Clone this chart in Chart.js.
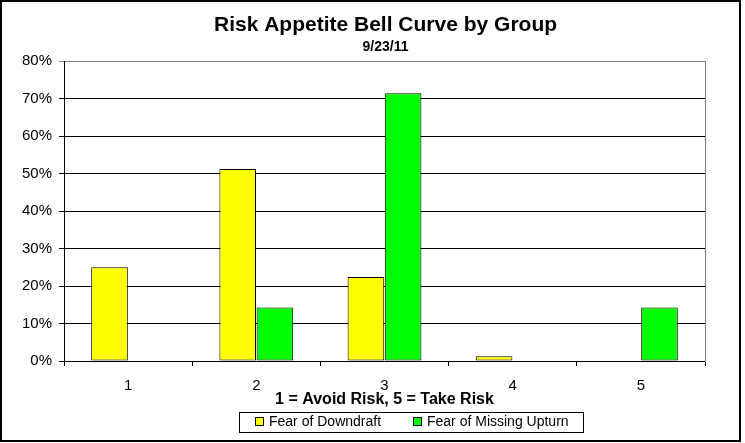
<!DOCTYPE html>
<html>
<head>
<meta charset="utf-8">
<script src="https://cdn.jsdelivr.net/npm/chart.js@4"></script>
<style>
  html, body { margin: 0; padding: 0; background: #fff; }
  #wrap { width: 745px; height: 443px; position: relative; }
</style>
</head>
<body>
<div id="wrap"><canvas id="c" width="745" height="443"></canvas></div>
<script>
const categories = ['1', '2', '3', '4', '5'];
const fearOfDowndraft = [0.25, 0.512, 0.224, 0.013, null];
const fearOfMissingUpturn = [null, 0.143, 0.714, null, 0.143];
const seriesNames = ['Fear of Downdraft', 'Fear of Missing Upturn'];
const seriesColors = ['#FFFF00', '#00FF00'];
const yTickValues = [0, 0.1, 0.2, 0.3, 0.4, 0.5, 0.6, 0.7, 0.8];
const chartTitle = 'Risk Appetite Bell Curve by Group';
const chartSubtitle = '9/23/11';
const xAxisTitle = '1 = Avoid Risk, 5 = Take Risk';

const FONT = '"Liberation Sans", Arial, Helvetica, sans-serif';
Chart.defaults.font.family = FONT;
Chart.defaults.color = '#000';

const frameTitleLegend = {
  id: 'frameTitleLegend',
  beforeDraw(chart) {
    const ctx = chart.ctx;
    ctx.save();
    ctx.fillStyle = '#fff';
    ctx.fillRect(0, 0, chart.width, chart.height);
    ctx.restore();
  },
  afterDraw(chart) {
    const ctx = chart.ctx;
    const ca = chart.chartArea;
    const cx = (ca.left + ca.right) / 2 + 1;
    ctx.save();
    // titles
    ctx.fillStyle = '#000';
    ctx.textAlign = 'center';
    ctx.textBaseline = 'middle';
    ctx.font = 'bold 21px ' + FONT;
    ctx.fillText(chartTitle, cx, 25);
    ctx.font = 'bold 14px ' + FONT;
    ctx.fillText(chartSubtitle, cx, 47.5);
    // outer chart frame
    ctx.strokeStyle = '#000';
    ctx.lineWidth = 2;
    ctx.strokeRect(1, 1, 739, 440);
    // legend box
    ctx.lineWidth = 1;
    ctx.strokeRect(239.5, 412.5, 344, 20);
    const items = [{x: 255, tx: 269}, {x: 413, tx: 427}];
    ctx.font = '14px ' + FONT;
    ctx.textAlign = 'left';
    chart.data.datasets.forEach((ds, i) => {
      const it = items[i];
      ctx.fillStyle = ds.backgroundColor;
      ctx.fillRect(it.x + 0.5, 417.5, 8, 8);
      ctx.strokeStyle = '#000';
      ctx.strokeRect(it.x + 0.5, 417.5, 8, 8);
      ctx.fillStyle = '#000';
      ctx.fillText(ds.label, it.tx, 422.5);
    });
    ctx.restore();
  }
};

new Chart(document.getElementById('c'), {
  type: 'bar',
  data: {
    labels: categories,
    datasets: [
      { label: seriesNames[0], data: fearOfDowndraft, backgroundColor: seriesColors[0], borderColor: '#000', borderWidth: 1, borderSkipped: false },
      { label: seriesNames[1], data: fearOfMissingUpturn, backgroundColor: seriesColors[1], borderColor: '#000', borderWidth: 1, borderSkipped: false }
    ]
  },
  options: {
    responsive: false,
    animation: false,
    events: [],
    datasets: { bar: { categoryPercentage: 0.58, barPercentage: 0.985 } },
    layout: { padding: { left: 2, right: 2, top: 61, bottom: 34 } },
    plugins: {
      legend: { display: false },
      tooltip: { enabled: false },
      title: { display: false },
      subtitle: { display: false }
    },
    scales: {
      x: {
        grid: { display: true, drawOnChartArea: false, offset: true, color: '#000', tickLength: 5 },
        border: { display: true, color: '#000', width: 1 },
        ticks: { padding: 11, font: { size: 15, family: FONT }, color: '#000' },
        title: { display: true, text: xAxisTitle, color: '#000', font: { size: 16, weight: 'bold', family: FONT }, padding: { top: 0, bottom: 0 } },
        afterFit(scale) { scale.height = 48; }
      },
      y: {
        min: 0, max: 0.8,
        afterBuildTicks(scale) { scale.ticks = yTickValues.map(v => ({ value: v })); },
        grid: {
          color: (c) => (c.tick && Math.abs(c.tick.value - 0.8) < 1e-9) ? '#808080' : '#000',
          lineWidth: 1, tickLength: 5
        },
        border: { display: true, color: '#000', width: 1 },
        ticks: {
          padding: 7, font: { size: 15, family: FONT }, color: '#000',
          callback: (v) => Math.round(v * 100) + '%'
        },
        afterFit(scale) { scale.width = 62; }
      },
      y2: {
        position: 'right', min: 0, max: 0.8,
        grid: { display: false, drawOnChartArea: false },
        border: { display: true, color: '#808080', width: 1 },
        ticks: { display: false },
        afterFit(scale) { scale.width = 38; }
      }
    }
  },
  plugins: [frameTitleLegend]
});
</script>
</body>
</html>
